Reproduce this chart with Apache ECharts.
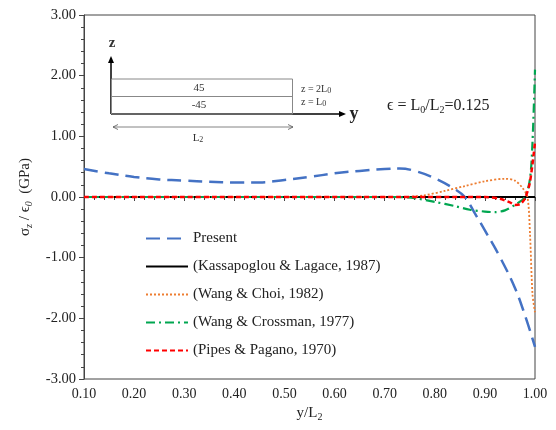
<!DOCTYPE html>
<html><head><meta charset="utf-8">
<script src="https://cdn.jsdelivr.net/npm/echarts@6/dist/echarts.min.js"></script>
<style>html,body{margin:0;padding:0;background:#fff}#c{width:556px;height:430px}</style>
</head><body><div id="c"></div>
<script>
const seriesNames = ['Present','(Kassapoglou & Lagace, 1987)','(Wang & Choi, 1982)','(Wang & Crossman, 1977)','(Pipes & Pagano, 1970)'];
const xTicks = [0.1,0.2,0.3,0.4,0.5,0.6,0.7,0.8,0.9,1.0];
const yTicks = [-3,-2,-1,0,1,2,3];

const presentX = [0.10,0.15,0.20,0.25,0.30,0.35,0.40,0.45,0.50,0.55,0.60,0.65,0.70,0.73,0.76,0.80,0.84,0.86,0.88,0.90,0.93,0.96,0.98,1.00];
const presentY = [0.46,0.39,0.33,0.29,0.27,0.25,0.24,0.24,0.28,0.33,0.39,0.43,0.46,0.47,0.43,0.31,0.13,0.00,-0.27,-0.55,-0.99,-1.50,-1.95,-2.47];

const kassX = [0.10,1.00];
const kassY = [0,0];

const choiX = [0.10,0.74,0.78,0.82,0.86,0.90,0.94,0.96,0.975,0.985,0.99,0.995,1.00];
const choiY = [0,0,0.03,0.10,0.18,0.26,0.30,0.27,0.15,0.00,-0.60,-1.60,-1.90];

const crossX = [0.10,0.72,0.76,0.80,0.84,0.87,0.90,0.92,0.94,0.96,0.98,0.99,0.995,1.00];
const crossY = [0,0,-0.02,-0.08,-0.15,-0.21,-0.24,-0.25,-0.22,-0.13,0.00,0.30,0.90,2.10];

const pipesX = [0.10,0.90,0.93,0.95,0.96,0.97,0.98,0.99,1.00];
const pipesY = [0,0,-0.03,-0.09,-0.13,-0.12,-0.02,0.25,0.90];

const pairs = (xs, ys) => xs.map((x,i)=>[x, ys[i]]);
const serif = '"Liberation Serif","DejaVu Serif",serif';

const chart = echarts.init(document.getElementById('c'));
const arrowHead = (x,y,dir)=>{
  let pts;
  if(dir==='up') pts=[[x,y],[x-3,y+7],[x+3,y+7]];
  else if(dir==='right') pts=[[x,y],[x-7,y-3],[x-7,y+3]];
  else pts=[[x,y],[x+7,y-3],[x+7,y+3]];
  return {type:'polygon',shape:{points:pts},style:{fill:'#000'}};
};
const thinArrow = (x,y,dir)=>{
  const d = dir==='right'? -5: 5;
  return {type:'polyline',shape:{points:[[x+d,y-2.5],[x,y],[x+d,y+2.5]]},style:{stroke:'#555',lineWidth:0.8,fill:null}};
};

chart.setOption({
  animation:false,
  backgroundColor:'#fff',
  grid:{left:84,right:21,top:15,bottom:51,show:true,borderColor:'#444',borderWidth:1},
  xAxis:{
    type:'value',min:0.1,max:1.0,interval:0.1,
    name:'{a|y/L}{s|2}',nameLocation:'middle',nameGap:24,
    nameTextStyle:{rich:{a:{fontFamily:serif,fontSize:15,color:'#222'},s:{fontFamily:serif,fontSize:10,color:'#222',verticalAlign:'bottom',padding:[8,0,0,0]}}},
    axisLine:{lineStyle:{color:'#444',width:1}},
    axisTick:{show:true,inside:false,length:4,lineStyle:{color:'#444'}},
    minorTick:{show:true,splitNumber:5,length:3,lineStyle:{color:'#444'}},
    splitLine:{show:false},
    axisLabel:{formatter:v=>v.toFixed(2),fontFamily:serif,fontSize:14,color:'#222',margin:8}
  },
  yAxis:{
    type:'value',min:-3,max:3,interval:1,
    name:'{a|σ}{s|z}{a| / ϵ}{s|0}{a|  (GPa)}',nameLocation:'middle',nameGap:50,nameRotate:90,
    nameTextStyle:{rich:{a:{fontFamily:serif,fontSize:15,color:'#222'},s:{fontFamily:serif,fontStyle:'italic',fontSize:10,color:'#222',verticalAlign:'bottom',padding:[8,0,0,0]}}},
    axisLine:{show:true,lineStyle:{color:'#444',width:1}},
    axisTick:{show:true,inside:false,length:5,lineStyle:{color:'#444'}},
    minorTick:{show:true,splitNumber:5,length:3,lineStyle:{color:'#444'}},
    splitLine:{show:false},
    axisLabel:{formatter:v=>v.toFixed(2),fontFamily:serif,fontSize:14.5,color:'#222',margin:8}
  },
  legend:{
    orient:'vertical',left:140,top:226,itemWidth:42,itemHeight:12,itemGap:13,
    itemStyle:{opacity:0},
    textStyle:{fontFamily:serif,fontSize:15,color:'#222'},
    data:seriesNames
  },
  series:[
    {name:seriesNames[1],type:'line',data:pairs(kassX,kassY),showSymbol:false,z:2,
      lineStyle:{color:'#000',width:2,type:'solid'},itemStyle:{color:'#000'}},
    {name:seriesNames[0],type:'line',data:pairs(presentX,presentY),smooth:0.4,showSymbol:false,z:3,
      lineStyle:{color:'#4472C4',width:2.5,type:[14,7]},itemStyle:{color:'#4472C4'}},
    {name:seriesNames[2],type:'line',data:pairs(choiX,choiY),smooth:0.3,showSymbol:false,z:4,
      lineStyle:{color:'#ED7D31',width:1.8,type:[2,2]},itemStyle:{color:'#ED7D31'}},
    {name:seriesNames[3],type:'line',data:pairs(crossX,crossY),smooth:0.3,showSymbol:false,z:5,
      lineStyle:{color:'#00A650',width:2.2,type:[9,4,2,4]},itemStyle:{color:'#00A650'}},
    {name:seriesNames[4],type:'line',data:pairs(pipesX,pipesY),smooth:0.3,showSymbol:false,z:6,
      lineStyle:{color:'#FF0000',width:2.5,type:[5,3]},itemStyle:{color:'#FF0000'}}
  ],
  graphic:[
    {type:'line',shape:{x1:111,y1:114,x2:111,y2:60},style:{stroke:'#000',lineWidth:1.5}},
    arrowHead(111,56,'up'),
    {type:'line',shape:{x1:111,y1:114,x2:342,y2:114},style:{stroke:'#000',lineWidth:1.5}},
    arrowHead(346,114,'right'),
    {type:'rect',shape:{x:111.5,y:79,width:181,height:35},style:{fill:null,stroke:'#888',lineWidth:1}},
    {type:'line',shape:{x1:111.5,y1:96.5,x2:292.5,y2:96.5},style:{stroke:'#888',lineWidth:1}},
    {type:'text',x:112,y:43,style:{text:'z',fontFamily:serif,fontSize:15,fontWeight:'bold',fill:'#333',align:'center',verticalAlign:'middle'}},
    {type:'text',x:354,y:114,style:{text:'y',fontFamily:serif,fontSize:18,fontWeight:'bold',fill:'#222',align:'center',verticalAlign:'middle'}},
    {type:'text',x:199,y:88,style:{text:'45',fontFamily:serif,fontSize:11,fill:'#333',align:'center',verticalAlign:'middle'}},
    {type:'text',x:199,y:105,style:{text:'-45',fontFamily:serif,fontSize:11,fill:'#333',align:'center',verticalAlign:'middle'}},
    {type:'text',x:301,y:89,style:{text:'{a|z = 2L}{s|0}',rich:{a:{fontFamily:serif,fontSize:10,fill:'#333'},s:{fontFamily:serif,fontSize:8,fill:'#333',padding:[3,0,0,0]}},align:'left',verticalAlign:'middle'}},
    {type:'text',x:301,y:102,style:{text:'{a|z = L}{s|0}',rich:{a:{fontFamily:serif,fontSize:10,fill:'#333'},s:{fontFamily:serif,fontSize:8,fill:'#333',padding:[3,0,0,0]}},align:'left',verticalAlign:'middle'}},
    {type:'line',shape:{x1:113,y1:127,x2:293,y2:127},style:{stroke:'#666',lineWidth:0.8}},
    thinArrow(113,127,'left'),
    thinArrow(293,127,'right'),
    {type:'text',x:198,y:138,style:{text:'{a|L}{s|2}',rich:{a:{fontFamily:serif,fontSize:11,fill:'#333'},s:{fontFamily:serif,fontSize:8,fill:'#333',padding:[4,0,0,0]}},align:'center',verticalAlign:'middle'}},
    {type:'text',x:387,y:106,style:{text:'{a|ϵ = L}{s|0}{a|/L}{s|2}{a|=0.125}',rich:{a:{fontFamily:serif,fontSize:16,fill:'#222'},s:{fontFamily:serif,fontSize:10,fill:'#222',padding:[8,0,0,0]}},align:'left',verticalAlign:'middle'}}
  ]
});
</script></body></html>
